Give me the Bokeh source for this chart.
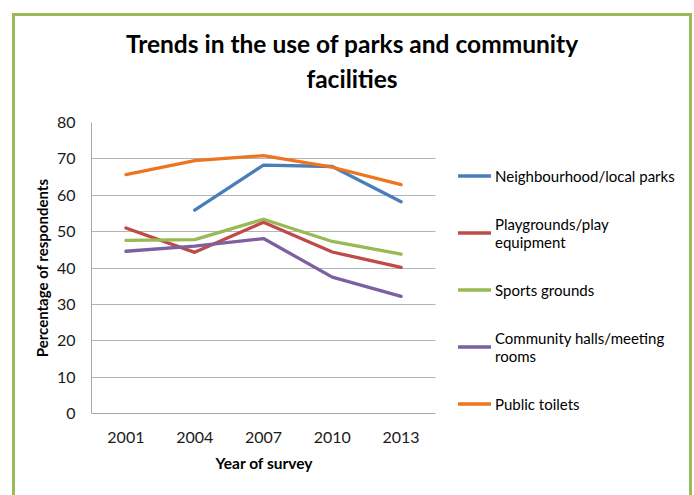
from bokeh.plotting import figure
from bokeh.models import Legend, LegendItem, Range1d, FixedTicker, Div, Title
from bokeh.layouts import column
from bokeh.embed import file_html
from bokeh.resources import INLINE

nan = float("nan")

title_lines = ["Trends in the use of parks and community", "facilities"]
x_label = "Year of survey"
y_label = "Percentage of respondents"

years = ["2001", "2004", "2007", "2010", "2013"]
y_ticks = [0, 10, 20, 30, 40, 50, 60, 70, 80]

series_names = [
    "Neighbourhood/local parks",
    "Playgrounds/play\nequipment",
    "Sports grounds",
    "Community halls/meeting\nrooms",
    "Public toilets",
]
parks = [nan, 55.9, 68.3, 67.9, 58.2]
playgrounds = [51.0, 44.3, 52.6, 44.4, 40.2]
sports = [47.6, 47.8, 53.4, 47.3, 43.8]
halls = [44.6, 46.0, 48.1, 37.5, 32.2]
toilets = [65.7, 69.5, 70.9, 67.7, 62.9]
series_values = [parks, playgrounds, sports, halls, toilets]
series_colors = ["#4A7EBB", "#BE4B48", "#98B954", "#7D60A0", "#EE7520"]

FONT = "Lato"
GREEN = "3px solid #9BBB59"

# layout geometry (pixels)
FIG_W, FIG_H = 674, 387
LEFT, BOTTOM, TOP = 76, 82, 14
FRAME_W = FIG_W - LEFT
PLOT_W = 344  # width occupied by the category axis
X_CAPTION_W = 96  # approximate rendered width of the x caption

n = len(years)
x_pos = [i + 0.5 for i in range(n)]
x_end = n * FRAME_W / PLOT_W

title_div = Div(
    text=(
        '<div style="font-family:Lato; font-weight:bold; font-size:24.5px; '
        'line-height:35px; text-align:center; padding-top:10px; color:#000; width:674px">'
        + "<br>".join(title_lines) + "</div>"
    ),
    width=FIG_W,
    height=92,
    margin=0,
)

p = figure(
    x_range=Range1d(0, x_end),
    y_range=Range1d(0, 80),
    width=FIG_W,
    height=FIG_H,
    output_backend="svg",
    toolbar_location=None,
    min_border_left=LEFT,
    min_border_right=0,
    min_border_top=TOP,
    min_border_bottom=BOTTOM,
    title=None,
)
p.outline_line_color = None
p.background_fill_color = "white"
p.border_fill_color = "white"

# axes
p.xaxis.ticker = FixedTicker(ticks=x_pos)
p.xaxis.major_label_overrides = {x: y for x, y in zip(x_pos, years)}
p.xaxis.bounds = (0, n)
p.yaxis.ticker = FixedTicker(ticks=y_ticks)
for ax in (p.xaxis, p.yaxis):
    ax.axis_line_color = "#A8A8A8"
    ax.axis_line_width = 1
    ax.major_tick_line_color = None
    ax.minor_tick_line_color = None
    ax.major_tick_out = 0
    ax.major_tick_in = 0
    ax.major_label_text_font = FONT
    ax.major_label_text_font_size = "16px"
    ax.major_label_text_color = "#1a1a1a"
    ax.axis_label_text_font = FONT
    ax.axis_label_text_font_style = "bold"
    ax.axis_label_text_font_size = "15px"
    ax.axis_label_text_color = "#000000"

p.yaxis.major_label_standoff = 16
p.yaxis.axis_label = y_label
p.yaxis.axis_label_standoff = 3
p.xaxis.major_label_standoff = 18

p.xgrid.grid_line_color = None
p.ygrid.grid_line_color = "#B4B4B4"
p.ygrid.grid_line_width = 1
try:
    p.ygrid.cross_bounds = (0, n)
except Exception:
    p.ygrid.grid_line_color = None
    p.segment(x0=[0] * len(y_ticks), x1=[n] * len(y_ticks), y0=y_ticks, y1=y_ticks,
              line_color="#B4B4B4", line_width=1)

# x-axis caption, centred under the category axis
x_title = Title(
    text=x_label,
    align="left",
    offset=(PLOT_W - X_CAPTION_W) / 2,
    standoff=13,
    text_font=FONT,
    text_font_style="bold",
    text_font_size="15.5px",
    text_color="#000000",
)
p.add_layout(x_title, "below")

items = []
for name, vals, color in zip(series_names, series_values, series_colors):
    r = p.line(x_pos, vals, line_color=color, line_width=3.3,
               line_cap="round", line_join="round")
    items.append(LegendItem(label=name, renderers=[r]))

legend = Legend(
    items=items,
    location=(367, -19),
    orientation="vertical",
    glyph_width=33,
    glyph_height=57,
    label_height=57,
    label_standoff=4,
    spacing=0,
    padding=0,
    margin=0,
    border_line_color=None,
    background_fill_alpha=0,
    label_text_font=FONT,
    label_text_font_size="15px",
    label_text_line_height=1.45,
    label_text_color="#000000",
)
p.add_layout(legend)

layout = column(
    title_div, p,
    spacing=0,
    styles={
        "border-left": GREEN,
        "border-right": GREEN,
        "border-top": GREEN,
        "margin-left": "12px",
        "margin-top": "13px",
    },
)

open("out.html", "w").write(file_html(layout, INLINE))
